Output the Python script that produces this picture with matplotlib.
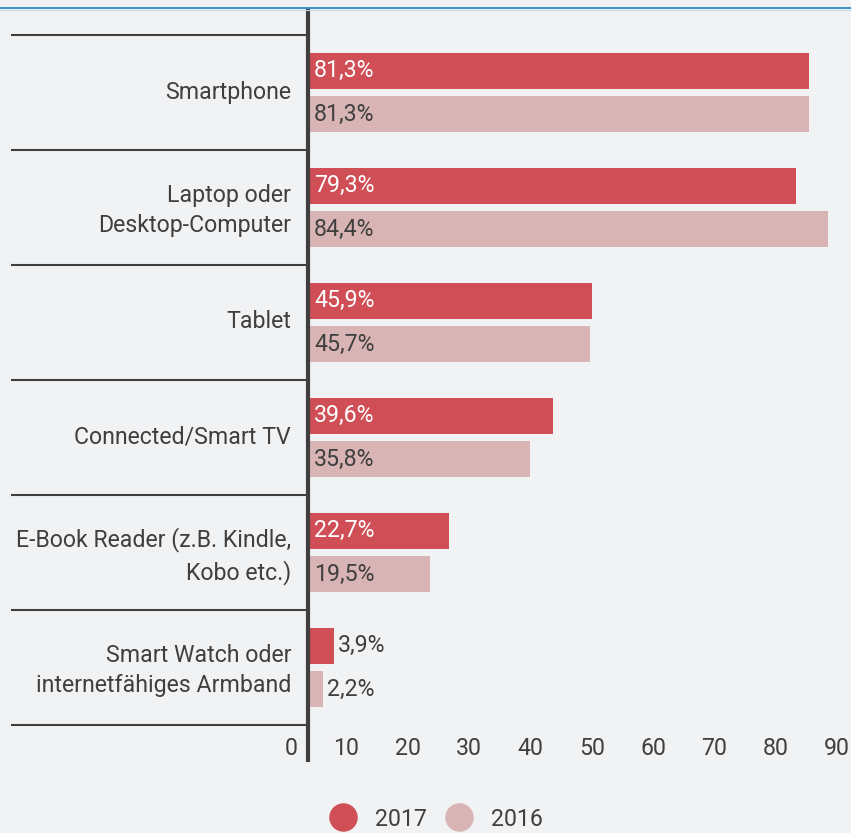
import matplotlib
matplotlib.use("Agg")
import matplotlib.pyplot as plt
import matplotlib.transforms as mtransforms
from matplotlib.lines import Line2D
import numpy as np

plt.rcParams['font.family'] = ['Roboto', 'DejaVu Sans']

categories = ["Smartphone", "Laptop oder\nDesktop-Computer", "Tablet",
              "Connected/Smart TV", "E-Book Reader (z.B. Kindle,\nKobo etc.)",
              "Smart Watch oder\ninternetfähiges Armband"]
values_2017 = [81.3, 79.3, 45.9, 39.6, 22.7, 3.9]
values_2016 = [81.3, 84.4, 45.7, 35.8, 19.5, 2.2]
series_names = ["2017", "2016"]
xticks = list(range(0, 100, 10))

BG = "#F1F2F4"
C2017 = "#D04F56"
C2016 = "#D8B4B5"
TXT = "#3F3F3F"
FS = 16.7

W, H = 851, 833
fig = plt.figure(figsize=(W / 100, H / 100), dpi=100, facecolor=BG)
ax = fig.add_axes([310 / W, (H - 725) / H, 552 / W, 690 / H], facecolor=BG)

y = np.arange(len(categories))
off = 0.191
bh = 0.313
ax.barh(y - off, values_2017, height=bh, color=C2017, zorder=2)
ax.barh(y + off, values_2016, height=bh, color=C2016, zorder=2)

ax.set_xlim(0, 90)
ax.set_ylim(len(categories) - 0.5, -0.5)

# value labels
px = mtransforms.ScaledTranslation(4 / 100, 0, fig.dpi_scale_trans)
for yi, v in zip(y, values_2017):
    lab = f"{v:.1f}".replace(".", ",") + "%"
    if v > 10:
        ax.text(0, yi - off, lab, color="white", fontsize=FS, va="center", ha="left",
                transform=ax.transData + px, zorder=3)
    else:
        ax.text(v, yi - off, lab, color=TXT, fontsize=FS, va="center", ha="left",
                transform=ax.transData + px, zorder=3)
for yi, v in zip(y, values_2016):
    lab = f"{v:.1f}".replace(".", ",") + "%"
    if v > 10:
        ax.text(0, yi + off, lab, color=TXT, fontsize=FS, va="center", ha="left",
                transform=ax.transData + px, zorder=3)
    else:
        ax.text(v, yi + off, lab, color=TXT, fontsize=FS, va="center", ha="left",
                transform=ax.transData + px, zorder=3)

# category labels
ax.set_yticks(y)
ax.set_yticklabels(categories, fontsize=FS, color=TXT, linespacing=1.38)
ax.tick_params(axis="y", length=0, pad=13.5)
up = mtransforms.ScaledTranslation(0, 3 / 100, fig.dpi_scale_trans)
for lbl in ax.get_yticklabels():
    lbl.set_transform(lbl.get_transform() + up)

# x tick labels
ax.set_xticks(xticks)
ax.set_xticklabels([str(t) for t in xticks], fontsize=FS, color=TXT)
ax.tick_params(axis="x", length=0, pad=8.5)
shift = mtransforms.ScaledTranslation(-12 / 100, 0, fig.dpi_scale_trans)
for lbl in ax.get_xticklabels():
    lbl.set_horizontalalignment("right")
    lbl.set_transform(lbl.get_transform() + shift)

for s in ax.spines.values():
    s.set_visible(False)

# separators
trans = mtransforms.blended_transform_factory(ax.transAxes, ax.transData)
seps = np.arange(-0.5, len(categories), 1.0)
ax.hlines(seps, (11 - 310) / 552, (306 - 310) / 552, transform=trans,
          color=TXT, linewidth=1.5, clip_on=False)
# vertical axis line
ax.plot([(308 - 310) / 552] * 2, [(725 - 9) / 690, (725 - 762) / 690],
        transform=ax.transAxes, color=TXT, linewidth=3, clip_on=False,
        solid_capstyle="butt")

# top blue line
fig.add_artist(Line2D([0, 1], [1 - 8 / H] * 2, transform=fig.transFigure,
                      color="#1E7FC2", linewidth=1.2))
fig.add_artist(Line2D([0, 1], [1 - 9.5 / H] * 2, transform=fig.transFigure,
                      color="#BFDDF2", linewidth=0.8))

# legend
handles = [Line2D([], [], marker="o", linestyle="none", markersize=19.5,
                  markerfacecolor=c, markeredgecolor=c) for c in (C2017, C2016)]
leg = fig.legend(handles, series_names, loc="center", ncol=2, frameon=False,
                 bbox_to_anchor=(436 / W, 1 - 819 / H), fontsize=FS,
                 handlelength=1.2, handletextpad=0.78, columnspacing=0.78,
                 labelcolor=TXT, borderpad=0, borderaxespad=0)

fig.savefig("out.png", dpi=100, facecolor=BG)
